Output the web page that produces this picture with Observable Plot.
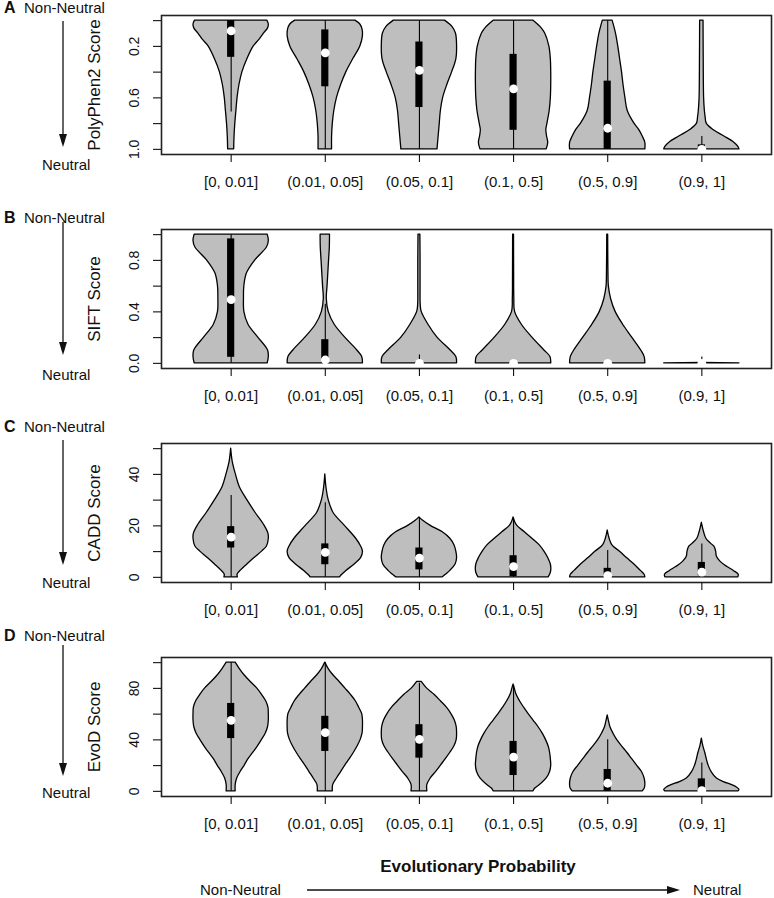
<!DOCTYPE html>
<html><head><meta charset="utf-8">
<script src="https://cdn.jsdelivr.net/npm/d3@7"></script>
<script src="https://cdn.jsdelivr.net/npm/@observablehq/plot@0.6"></script>
<style>
body{margin:0;background:#fff;}
#fig{position:relative;width:774px;height:898px;font-family:'Liberation Sans',Arial,Helvetica,sans-serif;color:#111;overflow:hidden;}
.panel{position:absolute;left:0;}
.lbl{position:absolute;font-size:15px;line-height:18px;white-space:nowrap;}
#over{position:absolute;left:0;top:0;pointer-events:none;}
</style></head><body><div id="fig"></div>
<script>
// ---------- data ----------
const categories = ["[0, 0.01]", "(0.01, 0.05]", "(0.05, 0.1]", "(0.1, 0.5]", "(0.5, 0.9]", "(0.9, 1]"];

// violin profiles: [score, relative half-width (1 = widest)]
const polyphenShapes = [
  [[0,0.96],[0.03,1.0],[0.06,0.98],[0.1,0.87],[0.15,0.75],[0.2,0.6],[0.3,0.43],[0.4,0.3],[0.5,0.22],[0.6,0.17],[0.7,0.14],[0.8,0.11],[0.9,0.09],[1,0.08]],
  [[0,0.8],[0.03,0.93],[0.07,0.99],[0.12,1.0],[0.2,0.93],[0.3,0.74],[0.4,0.56],[0.5,0.42],[0.6,0.31],[0.7,0.24],[0.8,0.2],[0.9,0.18],[1,0.18]],
  [[0,0.68],[0.05,0.88],[0.1,0.97],[0.2,1.0],[0.3,0.98],[0.4,0.87],[0.5,0.74],[0.6,0.63],[0.7,0.57],[0.8,0.54],[0.9,0.51],[1,0.48]],
  [[0,0.53],[0.05,0.72],[0.1,0.84],[0.2,0.95],[0.3,0.99],[0.4,1.0],[0.5,1.0],[0.6,0.99],[0.7,0.96],[0.8,0.9],[0.85,0.87],[0.9,0.89],[0.95,0.92],[1,0.88]],
  [[0,0.13],[0.1,0.22],[0.2,0.28],[0.3,0.33],[0.4,0.38],[0.5,0.42],[0.6,0.47],[0.7,0.53],[0.8,0.71],[0.85,0.84],[0.9,0.93],[0.95,1.0],[1,1.0]],
  [[0,0.045],[0.3,0.05],[0.6,0.06],[0.7,0.08],[0.75,0.1],[0.8,0.13],[0.85,0.31],[0.9,0.6],[0.95,0.87],[0.98,0.97],[1,1.0]]
];
// [lower whisker, Q1, median, Q3, upper whisker]
const polyphenStats = [
  [0,0,0.08,0.285,0.71],[0,0.072,0.25,0.514,1],[0,0.166,0.387,0.675,1],
  [0,0.262,0.53,0.852,1],[0,0.47,0.836,1,1],[0.9,0.965,1,1,1]
];
const polyphenTicks = [0,0.2,0.4,0.6,0.8,1.0];
const polyphenTickLabels = ["","0.2","","0.6","","1.0"];

const siftShapes = [
  [[0,0.97],[0.05,1.0],[0.1,0.98],[0.2,0.72],[0.3,0.46],[0.4,0.35],[0.5,0.34],[0.6,0.35],[0.7,0.42],[0.8,0.64],[0.9,0.95],[0.95,1.0],[1,0.97]],
  [[0,1.0],[0.05,0.98],[0.1,0.85],[0.2,0.53],[0.3,0.25],[0.4,0.09],[0.5,0.04],[0.6,0.06],[0.7,0.08],[0.8,0.1],[0.9,0.12],[1,0.125]],
  [[0,1.0],[0.05,0.98],[0.1,0.83],[0.2,0.48],[0.3,0.24],[0.4,0.06],[0.45,0.035],[0.6,0.03],[0.8,0.03],[1,0.025]],
  [[0,1.0],[0.05,0.98],[0.1,0.82],[0.2,0.5],[0.3,0.22],[0.4,0.04],[0.5,0.02],[0.7,0.015],[1,0.012]],
  [[0,1.0],[0.05,0.98],[0.1,0.89],[0.2,0.65],[0.3,0.41],[0.4,0.21],[0.5,0.09],[0.6,0.03],[0.7,0.02],[1,0.012]],
  [[0,1.0],[0.003,0]]
];
const siftStats = [
  [0,0.047,0.495,0.967,1],[0,0,0.026,0.184,0.46],[0,0,0,0.01,0.065],
  [0,0,0,0,0],[0,0,0,0,0],[0,0,0,0,0.05]
];
const siftTicks = [0,0.2,0.4,0.6,0.8,1.0];
const siftTickLabels = ["0.0","","0.4","","0.8",""];

const caddShapes = [
  [[0,0.18],[1,0.17],[2.5,0.25],[5,0.43],[7.5,0.62],[10,0.82],[12,0.95],[15,1.0],[17,0.99],[20,0.89],[25,0.65],[30,0.43],[35,0.23],[40,0.125],[45,0.04],[50,0]],
  [[0,0.39],[1,0.45],[2.5,0.56],[5,0.78],[7.5,0.95],[10,1.0],[12,0.95],[15,0.82],[20,0.52],[25,0.22],[30,0.09],[35,0.03],[40,0]],
  [[0,0.62],[1,0.7],[2.5,0.82],[5,0.96],[7.5,1.0],[10,0.98],[12.5,0.93],[15,0.82],[17.5,0.62],[20,0.3],[22,0.1],[23.3,0]],
  [[0,0.93],[1,0.97],[2.5,1.0],[5,0.99],[7.5,0.92],[10,0.82],[12.5,0.69],[15,0.5],[17.5,0.3],[20,0.1],[21.5,0.04],[23.3,0]],
  [[0,1.0],[1,0.98],[2.5,0.88],[5,0.71],[7.5,0.51],[10,0.32],[12.5,0.12],[15,0.05],[18.2,0]],
  [[0,0.97],[1,0.98],[2.5,0.85],[4,0.68],[6,0.5],[8,0.4],[10,0.38],[12,0.33],[13,0.25],[15,0.12],[17.5,0.06],[21.2,0]]
];
const caddStats = [
  [0,11.4,15.6,19.7,31.8],[0,4.9,9.7,13.0,29],[0,2.9,7.5,11.4,23],
  [0,0.3,4.2,8.4,23],[0,0,0.7,3.5,10.4],[0,0.6,2.0,5.8,13]
];
const caddTicks = [0,10,20,30,40,50];
const caddTickLabels = ["0","","20","","40",""];

const evodShapes = [
  [[0,0.12],[5,0.12],[10,0.16],[15,0.25],[20,0.36],[25,0.46],[30,0.59],[35,0.71],[40,0.82],[45,0.92],[50,0.98],[55,1.0],[60,1.0],[65,0.99],[70,0.93],[75,0.82],[80,0.69],[85,0.52],[90,0.36],[95,0.23],[100,0.12]],
  [[0,0.2],[5,0.21],[10,0.31],[15,0.42],[20,0.53],[25,0.65],[30,0.76],[35,0.86],[40,0.94],[45,0.99],[50,1.0],[55,1.0],[60,0.98],[65,0.9],[70,0.81],[75,0.68],[80,0.53],[85,0.38],[90,0.22],[95,0.09],[100,0]],
  [[0,0.21],[5,0.21],[10,0.3],[15,0.44],[20,0.57],[25,0.7],[30,0.82],[35,0.93],[40,0.99],[45,1.0],[50,0.99],[55,0.94],[60,0.85],[65,0.73],[70,0.57],[75,0.4],[80,0.2],[85,0.06]],
  [[0,0.53],[2,0.57],[5,0.7],[10,0.88],[15,0.97],[20,1.0],[25,0.99],[30,0.97],[35,0.93],[40,0.86],[45,0.77],[50,0.66],[55,0.53],[60,0.4],[65,0.28],[70,0.17],[75,0.08],[80,0.03],[83,0]],
  [[0,0.93],[2,0.98],[5,1.0],[10,0.98],[15,0.91],[20,0.78],[25,0.65],[30,0.52],[35,0.38],[40,0.25],[45,0.15],[50,0.07],[55,0.03],[59,0]],
  [[0,0.97],[1,1.0],[3,0.93],[5,0.79],[7,0.6],[10,0.4],[15,0.26],[20,0.18],[25,0.13],[30,0.09],[35,0.04],[41,0]]
];
const evodStats = [
  [0,41,55.2,68.3,100],[0,31,45.6,58.3,100],[0,25.8,40.4,51.8,84],
  [0,12.3,26.6,38.8,82],[0,0,6.3,17,40],[0,0,0.5,9.7,22]
];
const evodTicks = [0,20,40,60,80,100];
const evodTickLabels = ["0","","40","","80",""];

const panelLetters = ["A","B","C","D"];
const axisTitles = ["PolyPhen2 Score","SIFT Score","CADD Score","EvoD Score"];

// ---------- layout ----------
const FONT = "'Liberation Sans', Arial, Helvetica, sans-serif";
const svgTops = [0, 214, 428, 642];
const letterY = [7.5, 218, 426.5, 635.5];
const neutralY = [165, 375, 583, 793];
const arrowSpan = [[21,147],[222,355],[440,565],[645,776]];

const panels = [
  {shapes: polyphenShapes, stats: polyphenStats, domain: [-0.04,1.04], reverse: true, ticks: polyphenTicks, labels: polyphenTickLabels},
  {shapes: siftShapes, stats: siftStats, domain: [-0.04,1.04], reverse: false, ticks: siftTicks, labels: siftTickLabels},
  {shapes: caddShapes, stats: caddStats, domain: [-2,52], reverse: false, ticks: caddTicks, labels: caddTickLabels},
  {shapes: evodShapes, stats: evodStats, domain: [-4,104], reverse: false, ticks: evodTicks, labels: evodTickLabels}
];

const fig = document.getElementById("fig");

panels.forEach((p, k) => {
  const rows = [];
  p.shapes.forEach((s, i) => s.forEach(([v, w]) => rows.push({c: i + 1, v, w})));
  const statRows = p.stats.map(([lo, q1, med, q3, hi], i) => ({c: i + 1, lo, q1, med, q3, hi}));
  const chart = Plot.plot({
    width: 774, height: 214,
    marginTop: 15, marginBottom: 60, marginLeft: 161, marginRight: 3,
    style: {fontFamily: FONT, fontSize: "14px", color: "#111", background: "transparent"},
    x: {domain: [0.26, 6.74]},
    y: {domain: p.domain, reverse: p.reverse},
    marks: [
      Plot.areaX(rows, {y: "v", x1: d => d.c - 0.4 * d.w, x2: d => d.c + 0.4 * d.w, z: "c",
        fill: "#bebebe", stroke: "#000", strokeWidth: 1.3, curve: "catmull-rom"}),
      Plot.ruleX(statRows, {x: "c", y1: "lo", y2: "hi", stroke: "#000", strokeWidth: 1.1}),
      Plot.rect(statRows, {x1: d => d.c - 0.038, x2: d => d.c + 0.038, y1: "q1", y2: "q3", fill: "#000"}),
      Plot.dot(statRows, {x: "c", y: "med", r: 4.4, fill: "#fff", stroke: null}),
      Plot.frame({stroke: "#222", strokeWidth: 1.6}),
      Plot.axisX({ticks: [1,2,3,4,5,6], tickSize: 8, tickFormat: () => "", label: null, strokeWidth: 1.1}),
      Plot.text(categories, {x: (d, i) => i + 1, frameAnchor: "bottom", dy: 28, fontSize: 15,
        textAnchor: "middle", lineAnchor: "middle", fill: "#111"}),
      Plot.axisY({ticks: p.ticks, tickSize: 8, tickFormat: () => "", label: null, strokeWidth: 1.1}),
      Plot.text(p.ticks, {y: d => d, text: (d, i) => p.labels[i], frameAnchor: "left", dx: -27, rotate: -90,
        fontSize: 14, textAnchor: "middle", lineAnchor: "middle", fill: "#111"}),
      Plot.text([axisTitles[k]], {frameAnchor: "left", dx: -66.5, rotate: -90, fontSize: 17,
        textAnchor: "middle", lineAnchor: "middle", fill: "#111"})
    ]
  });
  const holder = document.createElement("div");
  holder.className = "panel";
  holder.style.top = svgTops[k] + "px";
  holder.appendChild(chart);
  fig.appendChild(holder);

  const L = document.createElement("div");
  L.className = "lbl";
  L.style.left = "4px"; L.style.top = (letterY[k] - 9) + "px";
  L.innerHTML = "<b style='font-size:16px'>" + panelLetters[k] + "</b>";
  fig.appendChild(L);
  const NN = document.createElement("div");
  NN.className = "lbl"; NN.textContent = "Non-Neutral";
  NN.style.left = "24px"; NN.style.top = (letterY[k] - 9) + "px";
  fig.appendChild(NN);
  const N = document.createElement("div");
  N.className = "lbl"; N.textContent = "Neutral";
  N.style.left = "42px"; N.style.top = (neutralY[k] - 9) + "px";
  fig.appendChild(N);
});

// bottom titles
const T = document.createElement("div");
T.className = "lbl";
T.style.left = "378px"; T.style.width = "200px"; T.style.textAlign = "center";
T.style.top = (867 - 10) + "px"; T.style.fontSize = "17px"; T.style.lineHeight = "20px"; T.style.fontWeight = "bold";
T.textContent = "Evolutionary Probability";
fig.appendChild(T);
const b1 = document.createElement("div");
b1.className = "lbl"; b1.textContent = "Non-Neutral"; b1.style.left = "200px"; b1.style.top = (890 - 9) + "px";
fig.appendChild(b1);
const b2 = document.createElement("div");
b2.className = "lbl"; b2.textContent = "Neutral"; b2.style.left = "693px"; b2.style.top = (890 - 9) + "px";
fig.appendChild(b2);

// decorative arrows
const ns = "http://www.w3.org/2000/svg";
const over = document.createElementNS(ns, "svg");
over.setAttribute("id", "over");
over.setAttribute("width", 774); over.setAttribute("height", 898);
function arrow(x1, y1, x2, y2) {
  const len = Math.hypot(x2 - x1, y2 - y1), ux = (x2 - x1) / len, uy = (y2 - y1) / len;
  const hl = 13, hw = 4;
  const bx = x2 - ux * hl, by = y2 - uy * hl;
  const line = document.createElementNS(ns, "line");
  line.setAttribute("x1", x1); line.setAttribute("y1", y1);
  line.setAttribute("x2", bx); line.setAttribute("y2", by);
  line.setAttribute("stroke", "#111"); line.setAttribute("stroke-width", 1.3);
  over.appendChild(line);
  const poly = document.createElementNS(ns, "polygon");
  poly.setAttribute("points", `${x2},${y2} ${bx - uy * hw},${by + ux * hw} ${bx + uy * hw},${by - ux * hw}`);
  poly.setAttribute("fill", "#111");
  over.appendChild(poly);
}
arrowSpan.forEach(([a, b]) => arrow(63, a, 63, b));
arrow(307, 890, 680, 890);
fig.appendChild(over);
</script>
</body></html>
